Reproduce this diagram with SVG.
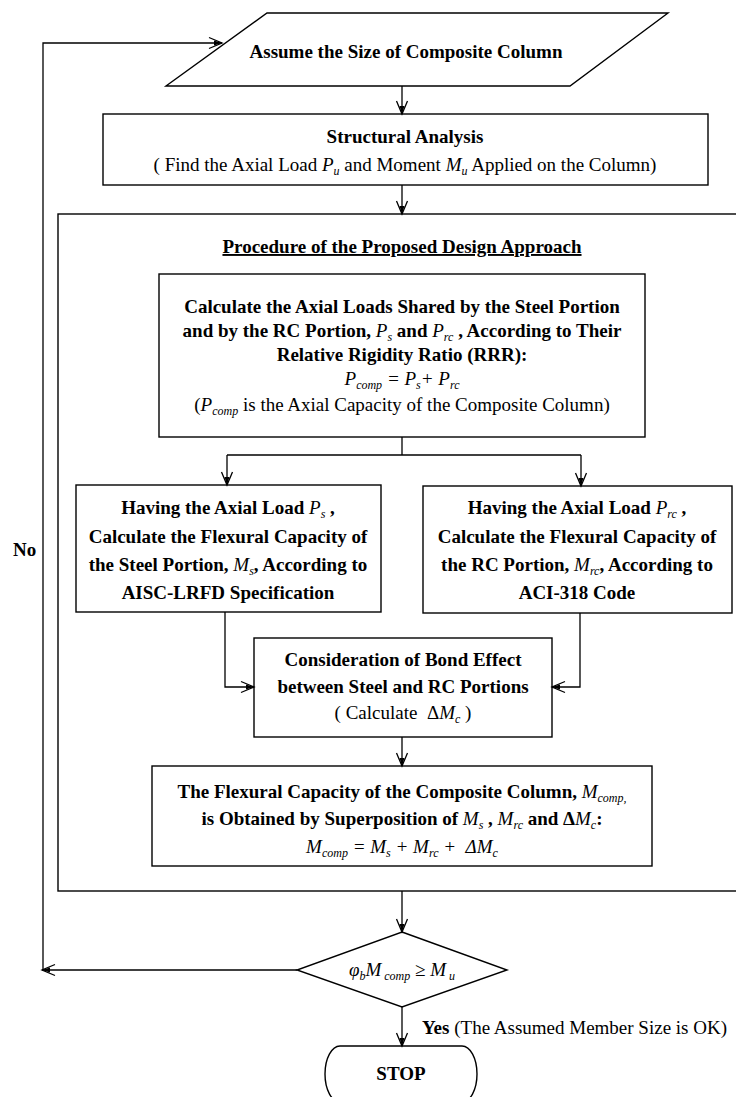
<svg xmlns="http://www.w3.org/2000/svg" width="736" height="1097" viewBox="0 0 736 1097">
<style>
  .box{fill:none;stroke:#000;stroke-width:1.4}
  .ln{fill:none;stroke:#000;stroke-width:1.3}
  text{font-family:"Liberation Serif","Times New Roman",serif;font-size:19px;fill:#000}
  .b{font-weight:bold}
  .c{text-anchor:middle}
  .i{font-style:italic;font-weight:normal}
  .s{font-size:12px}
</style>
<defs>
  <marker id="ah" markerUnits="userSpaceOnUse" markerWidth="14" markerHeight="12" refX="13" refY="6" orient="auto" overflow="visible">
    <path d="M0,0.5 L13,6 L0,11.5" fill="none" stroke="#000" stroke-width="1.3"/>
    <path d="M5,3.5 L13,6 L5,8.5 Z" fill="#000"/>
  </marker>
</defs>
<rect x="0" y="0" width="736" height="1097" fill="#fff"/>

<g id="outer">
  <rect class="box" x="58" y="214" width="690" height="677"/>
</g>

<g id="connectors">
  <line class="ln" x1="402" y1="86" x2="402" y2="114" marker-end="url(#ah)"/>
  <line class="ln" x1="402" y1="185" x2="402" y2="214" marker-end="url(#ah)"/>
  <polyline class="ln" points="402,437 402,455"/>
  <polyline class="ln" points="227,455 581,455"/>
  <line class="ln" x1="227" y1="455" x2="227" y2="485" marker-end="url(#ah)"/>
  <line class="ln" x1="581" y1="455" x2="581" y2="486" marker-end="url(#ah)"/>
  <polyline class="ln" points="225,612 225,687 254,687" marker-end="url(#ah)"/>
  <polyline class="ln" points="580,613 580,687 552,687" marker-end="url(#ah)"/>
  <line class="ln" x1="402" y1="737" x2="402" y2="766" marker-end="url(#ah)"/>
  <line class="ln" x1="402" y1="891" x2="402" y2="932" marker-end="url(#ah)"/>
  <line class="ln" x1="297" y1="970" x2="42" y2="970" marker-end="url(#ah)"/>
  <polyline class="ln" points="43,970 43,43 222,43" marker-end="url(#ah)"/>
  <line class="ln" x1="402" y1="1007" x2="402" y2="1046" marker-end="url(#ah)"/>
  <text class="b" x="13" y="556">No</text>
  <text x="422" y="1034"><tspan class="b">Yes</tspan> (The Assumed Member Size is OK)</text>
</g>

<g id="assume">
  <polygon class="box" points="267,13 668,13 570,86 166,86"/>
  <text class="b c" x="406" y="58">Assume the Size of Composite Column</text>
</g>

<g id="analysis">
  <rect class="box" x="103" y="114" width="605" height="71"/>
  <text class="b c" x="405" y="143">Structural Analysis</text>
  <text class="c" x="405" y="171">( Find the Axial Load <tspan class="i">P</tspan><tspan class="i s" dy="4">u</tspan><tspan dy="-4"> and Moment </tspan><tspan class="i">M</tspan><tspan class="i s" dy="4">u</tspan><tspan dy="-4"> Applied on the Column)</tspan></text>
</g>

<g id="title">
  <text class="b c" x="402" y="253" text-decoration="underline">Procedure of the Proposed Design Approach</text>
</g>

<g id="rrr">
  <rect class="box" x="159" y="274" width="486" height="163"/>
  <text class="b c" x="402" y="313">Calculate the Axial Loads Shared by the Steel Portion</text>
  <text class="b c" x="402" y="337">and by the RC Portion, <tspan class="i">P</tspan><tspan class="i s" dy="4">s</tspan><tspan dy="-4"> and </tspan><tspan class="i">P</tspan><tspan class="i s" dy="4">rc</tspan><tspan dy="-4"> , According to Their</tspan></text>
  <text class="b c" x="402" y="361">Relative Rigidity Ratio (RRR):</text>
  <text class="c i" x="402" y="385">P<tspan class="s" dy="4">comp</tspan><tspan dy="-4"> = P</tspan><tspan class="s" dy="4">s</tspan><tspan dy="-4">+ P</tspan><tspan class="s" dy="4">rc</tspan></text>
  <text class="c" x="402" y="411">(<tspan class="i">P</tspan><tspan class="i s" dy="4">comp</tspan><tspan dy="-4"> is the Axial Capacity of the Composite Column)</tspan></text>
</g>

<g id="steel">
  <rect class="box" x="76" y="485" width="305" height="127"/>
  <text class="b c" x="228" y="514">Having the Axial Load <tspan class="i">P</tspan><tspan class="i s" dy="4">s</tspan><tspan dy="-4"> ,</tspan></text>
  <text class="b c" x="228" y="543">Calculate the Flexural Capacity of</text>
  <text class="b c" x="228" y="571">the Steel Portion, <tspan class="i">M</tspan><tspan class="i s" dy="4">s</tspan><tspan dy="-4">, According to</tspan></text>
  <text class="b c" x="228" y="599">AISC-LRFD Specification</text>
</g>

<g id="rc">
  <rect class="box" x="423" y="486" width="309" height="127"/>
  <text class="b c" x="577" y="514">Having the Axial Load <tspan class="i">P</tspan><tspan class="i s" dy="4">rc</tspan><tspan dy="-4"> ,</tspan></text>
  <text class="b c" x="577" y="543">Calculate the Flexural Capacity of</text>
  <text class="b c" x="577" y="571">the RC Portion, <tspan class="i">M</tspan><tspan class="i s" dy="4">rc</tspan><tspan dy="-4">, According to</tspan></text>
  <text class="b c" x="577" y="599">ACI-318 Code</text>
</g>

<g id="bond">
  <rect class="box" x="254" y="638" width="298" height="99"/>
  <text class="b c" x="403" y="666">Consideration of Bond Effect</text>
  <text class="b c" x="403" y="693">between Steel and RC Portions</text>
  <text class="c" x="403" y="719">( Calculate &#160;Δ<tspan class="i">M</tspan><tspan class="i s" dy="4">c</tspan><tspan dy="-4"> )</tspan></text>
</g>

<g id="superposition">
  <rect class="box" x="152" y="766" width="500" height="100"/>
  <text class="b c" x="402" y="798">The Flexural Capacity of the Composite Column, <tspan class="i">M</tspan><tspan class="i s" dy="4">comp,</tspan></text>
  <text class="b c" x="402" y="825">is Obtained by Superposition of <tspan class="i">M</tspan><tspan class="i s" dy="4">s</tspan><tspan dy="-4"> , </tspan><tspan class="i">M</tspan><tspan class="i s" dy="4">rc</tspan><tspan dy="-4"> and Δ</tspan><tspan class="i">M</tspan><tspan class="i s" dy="4">c</tspan><tspan dy="-4">:</tspan></text>
  <text class="c i" x="402" y="853">M<tspan class="s" dy="4">comp</tspan><tspan dy="-4"> = M</tspan><tspan class="s" dy="4">s</tspan><tspan dy="-4"> + M</tspan><tspan class="s" dy="4">rc</tspan><tspan dy="-4"> + &#160;ΔM</tspan><tspan class="s" dy="4">c</tspan></text>
</g>

<g id="check">
  <polygon class="box" points="402,932 507,970 402,1007 297,970"/>
  <text class="c i" x="402" y="976">φ<tspan class="s" dy="4">b</tspan><tspan dy="-4">M</tspan><tspan class="s" dy="4"> comp</tspan><tspan dy="-4"> ≥ M</tspan><tspan class="s" dy="4"> u</tspan></text>
</g>

<g id="stop">
  <path class="box" d="M340,1046 H462 A15,28 0 0 1 462,1102 H340 A15,28 0 0 1 340,1046 Z"/>
  <text class="b c" x="401" y="1080">STOP</text>
</g>
</svg>
